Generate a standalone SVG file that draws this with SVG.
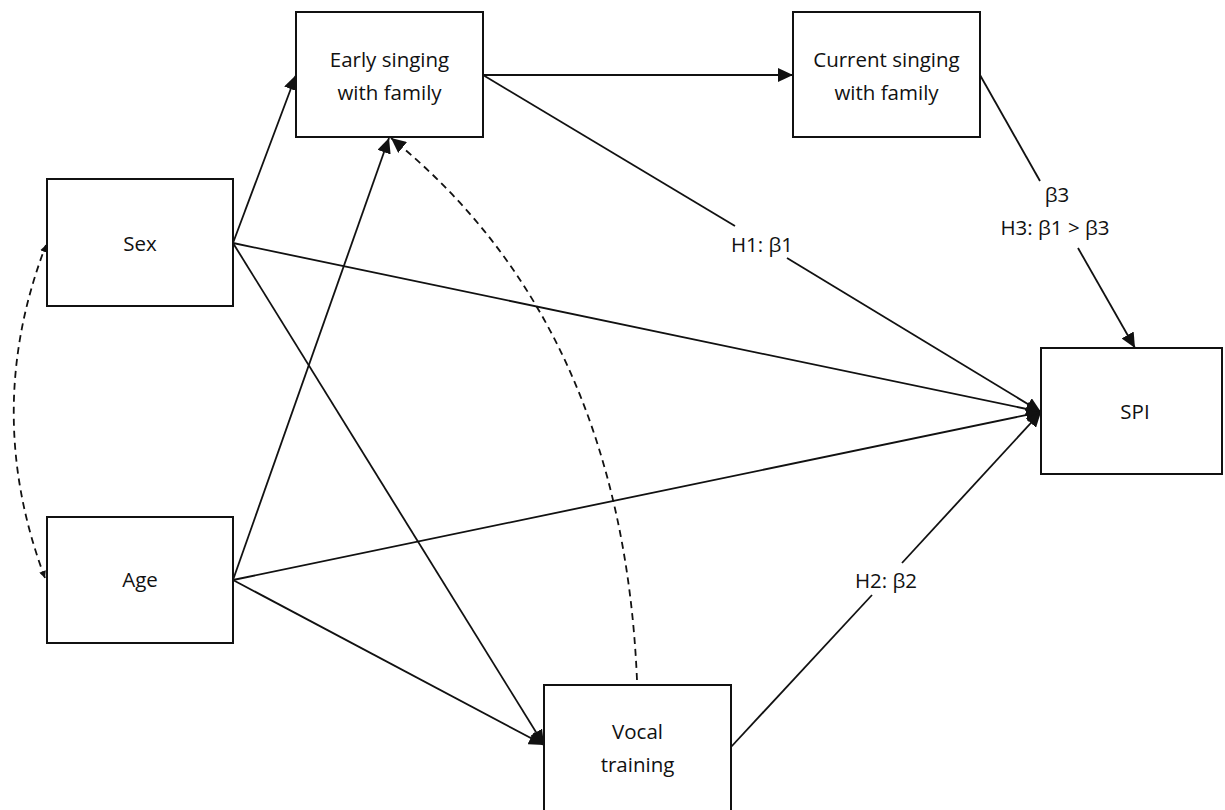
<svg xmlns="http://www.w3.org/2000/svg" width="1225" height="810" viewBox="0 0 1225 810">
<style>
.box{fill:#fff;stroke:#111;stroke-width:2}
.lbl{font-family:"Open Sans","Liberation Sans",sans-serif;font-size:20.5px;fill:#111;text-anchor:middle}
.ln{fill:none;stroke:#111;stroke-width:1.8}
.dash{fill:none;stroke:#111;stroke-width:1.8;stroke-dasharray:7 5}
</style>
<defs>
<marker id="ah" markerUnits="userSpaceOnUse" markerWidth="16" markerHeight="14" refX="15" refY="7" orient="auto">
<path d="M0,0 L15,7 L0,14 Z" fill="#111"/>
</marker>
<marker id="ahs" markerUnits="userSpaceOnUse" markerWidth="8" markerHeight="8" refX="7" refY="3.5" orient="auto">
<path d="M0,0 L7,3.5 L0,7 Z" fill="#111"/>
</marker>
<marker id="ahs0" markerUnits="userSpaceOnUse" markerWidth="8" markerHeight="8" refX="0" refY="3.5" orient="auto">
<path d="M7,0 L0,3.5 L7,7 Z" fill="#111"/>
</marker>
</defs>
<rect width="1225" height="810" fill="#fff"/>
<g id="connectors">
<line class="ln" x1="233" y1="243" x2="296" y2="75" marker-end="url(#ah)"/>
<line class="ln" x1="233" y1="580" x2="389" y2="138" marker-end="url(#ah)"/>
<line class="ln" x1="233" y1="243" x2="1041" y2="412" marker-end="url(#ah)"/>
<line class="ln" x1="233" y1="580" x2="1041" y2="412" marker-end="url(#ah)"/>
<line class="ln" x1="233" y1="243" x2="544" y2="745" marker-end="url(#ah)"/>
<line class="ln" x1="233" y1="580" x2="544" y2="745" marker-end="url(#ah)"/>
<line class="ln" x1="483" y1="75" x2="793" y2="75" marker-end="url(#ah)"/>
<line class="ln" x1="483" y1="75" x2="735" y2="226"/>
<line class="ln" x1="787" y1="258" x2="1041" y2="412" marker-end="url(#ah)"/>
<line class="ln" x1="980" y1="75" x2="1040" y2="181"/>
<line class="ln" x1="1078" y1="248" x2="1135" y2="348" marker-end="url(#ah)"/>
<line class="ln" x1="731" y1="747" x2="872" y2="595"/>
<line class="ln" x1="902" y1="563" x2="1041" y2="412" marker-end="url(#ah)"/>
<path class="dash" d="M45,578 Q-18,411 46,245" marker-end="url(#ahs)" marker-start="url(#ahs0)"/>
<path class="dash" d="M637,680 Q622,325 391,138" marker-end="url(#ah)"/>
<text class="lbl" x="762" y="252">H1: β1</text>
<text class="lbl" x="1057" y="202">β3</text>
<text class="lbl" x="1055" y="235">H3: β1 &gt; β3</text>
<text class="lbl" x="886" y="588">H2: β2</text>
</g>
<g id="sex">
<rect class="box" x="47" y="179" width="186" height="127"/>
<text class="lbl" x="140" y="251">Sex</text>
</g>
<g id="age">
<rect class="box" x="47" y="517" width="186" height="126"/>
<text class="lbl" x="140" y="587">Age</text>
</g>
<g id="early">
<rect class="box" x="296" y="12" width="187" height="125"/>
<text class="lbl" x="389.5" y="67">Early singing</text>
<text class="lbl" x="389.5" y="100">with family</text>
</g>
<g id="current">
<rect class="box" x="793" y="12" width="187" height="125"/>
<text class="lbl" x="886.5" y="67">Current singing</text>
<text class="lbl" x="886.5" y="100">with family</text>
</g>
<g id="spi">
<rect class="box" x="1041" y="348" width="181" height="126"/>
<text class="lbl" x="1135" y="419">SPI</text>
</g>
<g id="vocal">
<rect class="box" x="544" y="685" width="187" height="140"/>
<text class="lbl" x="637.5" y="739">Vocal</text>
<text class="lbl" x="637.5" y="772">training</text>
</g>
</svg>
